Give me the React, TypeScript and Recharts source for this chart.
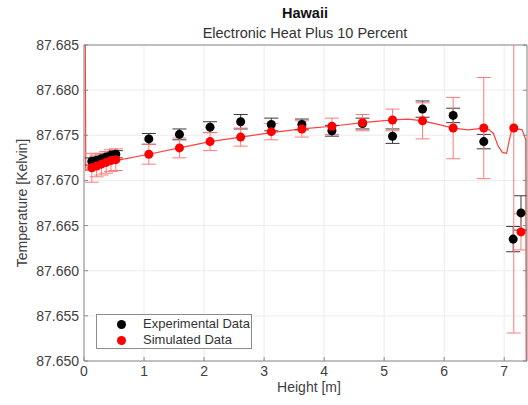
import React from 'react'
import { ComposedChart, Line, Scatter, ErrorBar, XAxis, YAxis, CartesianGrid } from 'recharts'

// measured temperatures along the column
const expHeights = [0.13, 0.21, 0.29, 0.37, 0.45, 0.53, 1.08, 1.59, 2.1, 2.61, 3.12, 3.63, 4.13, 4.64, 5.14, 5.64, 6.15, 6.66, 7.15, 7.28]
const expTemps = [87.6721, 87.6722, 87.6724, 87.6726, 87.6728, 87.6729, 87.6746, 87.6751, 87.6759, 87.6765, 87.6762, 87.6762, 87.6755, 87.6763, 87.6749, 87.6779, 87.6772, 87.6743, 87.6635, 87.6664]
const expErr = [0.0004, 0.0004, 0.0004, 0.0004, 0.0004, 0.0004, 0.0006, 0.0006, 0.0006, 0.0008, 0.0007, 0.0006, 0.0006, 0.0006, 0.0008, 0.0009, 0.0008, 0.0008, 0.0014, 0.0019]

// model output sampled at the sensor heights
const simHeights = [0.13, 0.21, 0.29, 0.37, 0.45, 0.53, 1.08, 1.59, 2.1, 2.61, 3.12, 3.63, 4.13, 4.64, 5.14, 5.64, 6.15, 6.66, 7.16, 7.28]
const simTemps = [87.6714, 87.6716, 87.6718, 87.672, 87.6722, 87.6723, 87.6729, 87.6736, 87.6743, 87.6748, 87.6754, 87.6757, 87.676, 87.6764, 87.6767, 87.6766, 87.6758, 87.6758, 87.6758, 87.6643]
const simErr = [0.0016, 0.0012, 0.0012, 0.0012, 0.0012, 0.0012, 0.0011, 0.0011, 0.001, 0.001, 0.0009, 0.0009, 0.0009, 0.0009, 0.0012, 0.002, 0.0034, 0.0056, 0.0227, 0.002]

// full simulated profile
const curveHeights = [0, 0.03, 0.13, 0.53, 1.08, 1.59, 2.1, 2.61, 3.12, 3.63, 4.13, 4.64, 5.14, 5.4, 5.64, 5.9, 6.15, 6.4, 6.66, 6.75, 6.82, 6.9, 6.97, 7.04, 7.08, 7.12, 7.16, 7.3, 7.36, 7.37]
const curveTemps = [87.72, 87.6711, 87.6713, 87.6722, 87.6729, 87.6736, 87.6743, 87.6748, 87.6753, 87.6757, 87.676, 87.6764, 87.6767, 87.6768, 87.6766, 87.6762, 87.6758, 87.6756, 87.6758, 87.6756, 87.6752, 87.6738, 87.6731, 87.673, 87.6743, 87.6755, 87.6758, 87.6756, 87.6745, 87.64]

const xTicks = [0, 1, 2, 3, 4, 5, 6, 7]
const yTicks = [87.65, 87.655, 87.66, 87.665, 87.67, 87.675, 87.68, 87.685]

const expData = expHeights.map((h, i) => ({ h, temp: expTemps[i], err: expErr[i] }))
const simData = simHeights.map((h, i) => ({ h, temp: simTemps[i], err: simErr[i] }))
const curveData = curveHeights.map((h, i) => ({ h, temp: curveTemps[i] }))

const FONT = '"Liberation Sans", Arial, Helvetica, sans-serif'
const AXIS = '#8a8a8a'
const LABEL = '#404040'

// plot box, used to clip error bars that run past the axes
const PLOT = { left: 84, top: 45, width: 443, height: 316 }

const BottomTick = ({ x, y, payload }: any) => (
  <g>
    <line x1={x} x2={x} y1={y} y2={y - 4} stroke={AXIS} />
    <text x={x} y={y + 15} textAnchor="middle" fontSize={14} fontFamily={FONT} fill={LABEL}>
      {payload.value}
    </text>
  </g>
)

const TopTick = ({ x, y }: any) => <line x1={x} x2={x} y1={y} y2={y + 4} stroke={AXIS} />

const LeftTick = ({ x, y, payload }: any) => (
  <g>
    <line x1={x} x2={x + 4} y1={y} y2={y} stroke={AXIS} />
    <text x={x - 5} y={y + 5} textAnchor="end" fontSize={14} fontFamily={FONT} fill={LABEL}>
      {payload.value.toFixed(3)}
    </text>
  </g>
)

const RightTick = ({ x, y }: any) => <line x1={x} x2={x - 4} y1={y} y2={y} stroke={AXIS} />

export default function App() {
  return (
    <div style={{ position: 'fixed', left: 0, top: 0, width: 528, height: 405, overflow: 'hidden', background: '#fff' }}>
      <style>{'.recharts-errorBar line { clip-path: url(#plot-area); }'}</style>
      <svg width={0} height={0} style={{ position: 'absolute' }}>
        <defs>
          <clipPath id="plot-area" clipPathUnits="userSpaceOnUse">
            <rect x={PLOT.left} y={PLOT.top} width={PLOT.width} height={PLOT.height} />
          </clipPath>
        </defs>
      </svg>
      <ComposedChart width={528} height={405} margin={{ top: 44, right: 0, bottom: 0, left: 0 }}>
        <CartesianGrid stroke="#ececec" />
        <XAxis
          xAxisId={0}
          dataKey="h"
          type="number"
          domain={[0, 7.38]}
          ticks={xTicks}
          allowDataOverflow
          height={44}
          tickSize={0}
          tickMargin={0}
          tickLine={false}
          axisLine={{ stroke: AXIS }}
          tick={<BottomTick />}
          interval={0}
        />
        <XAxis
          xAxisId="top"
          orientation="top"
          type="number"
          domain={[0, 7.38]}
          ticks={xTicks}
          allowDataOverflow
          height={1}
          tickSize={0}
          tickMargin={0}
          tickLine={false}
          axisLine={{ stroke: AXIS }}
          tick={<TopTick />}
          interval={0}
        />
        <YAxis
          yAxisId={0}
          dataKey="temp"
          type="number"
          domain={[87.65, 87.685]}
          ticks={yTicks}
          allowDataOverflow
          width={84}
          tickSize={0}
          tickMargin={0}
          tickLine={false}
          axisLine={{ stroke: AXIS }}
          tick={<LeftTick />}
          interval={0}
        />
        <YAxis
          yAxisId="right"
          orientation="right"
          type="number"
          domain={[87.65, 87.685]}
          ticks={yTicks}
          allowDataOverflow
          width={1}
          tickSize={0}
          tickMargin={0}
          tickLine={false}
          axisLine={{ stroke: AXIS }}
          tick={<RightTick />}
          interval={0}
        />
        <Line
          data={curveData}
          dataKey="temp"
          type="linear"
          stroke="#ff4040"
          strokeWidth={1.2}
          dot={false}
          isAnimationActive={false}
        />
        <Scatter data={expData} dataKey="temp" fill="#000" isAnimationActive={false}>
          <ErrorBar dataKey="err" direction="y" width={7} stroke="#3a3a3a" strokeWidth={1} isAnimationActive={false} />
        </Scatter>
        <Scatter data={simData} dataKey="temp" fill="#ff0000" isAnimationActive={false}>
          <ErrorBar dataKey="err" direction="y" width={7} stroke="#ff7a7a" strokeWidth={1} isAnimationActive={false} />
        </Scatter>
        <text x={305} y={18} textAnchor="middle" fontSize={14.5} fontWeight="bold" fontFamily={FONT} fill="#111">
          Hawaii
        </text>
        <text x={305} y={38} textAnchor="middle" fontSize={14.5} fontFamily={FONT} fill="#333">
          Electronic Heat Plus 10 Percent
        </text>
        <text
          x={0}
          y={0}
          transform="translate(27,203) rotate(-90)"
          textAnchor="middle"
          fontSize={14}
          fontFamily={FONT}
          fill={LABEL}
        >
          Temperature [Kelvin]
        </text>
        <text x={309} y={392} textAnchor="middle" fontSize={14} fontFamily={FONT} fill={LABEL}>
          Height [m]
        </text>
      </ComposedChart>

      {/* legend box, lower left of the plot */}
      <div
        style={{
          position: 'absolute',
          left: 96,
          top: 314,
          width: 156,
          height: 35,
          boxSizing: 'border-box',
          border: '1px solid #8c8c8c',
          background: '#fff',
          fontFamily: FONT,
          fontSize: 13,
          color: '#333',
        }}
      >
        {[
          { name: 'Experimental Data', color: '#000' },
          { name: 'Simulated Data', color: '#ff0000' },
        ].map((item, i) => (
          <div key={item.name} style={{ position: 'absolute', left: 0, top: 1 + i * 16, height: 16, width: '100%' }}>
            <span
              style={{
                position: 'absolute',
                left: 20,
                top: 3.5,
                width: 9,
                height: 9,
                borderRadius: '50%',
                background: item.color,
              }}
            />
            <span style={{ position: 'absolute', left: 46, top: 0, lineHeight: '16px', whiteSpace: 'nowrap' }}>
              {item.name}
            </span>
          </div>
        ))}
      </div>
    </div>
  )
}
